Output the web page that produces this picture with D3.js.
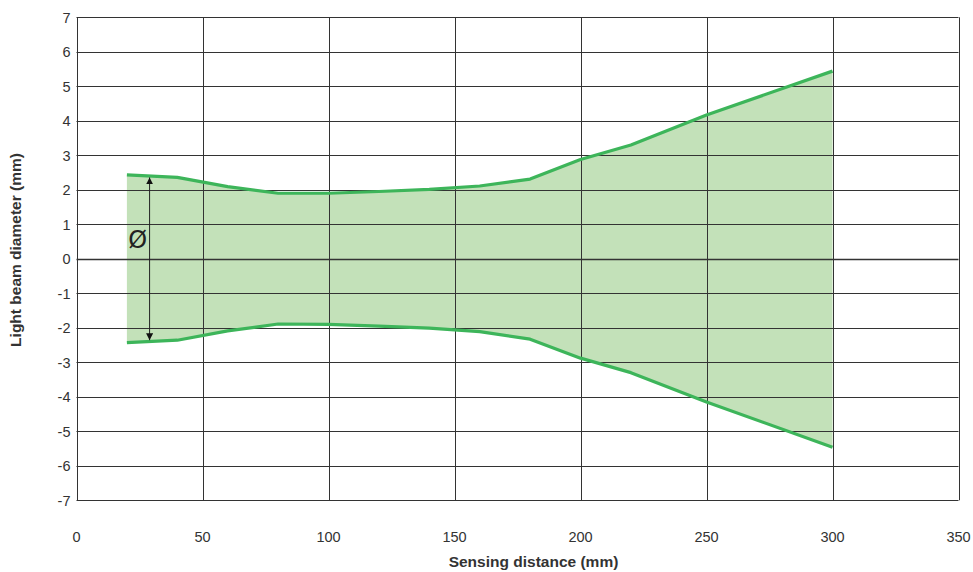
<!DOCTYPE html>
<html><head><meta charset="utf-8">
<script src="https://cdn.jsdelivr.net/npm/d3@7"></script>
<style>body{margin:0;background:#fff}svg{display:block}</style>
</head><body>
<script>
const distances = [20, 40, 60, 80, 100, 120, 140, 160, 180, 200, 220, 250, 300];
const upper = [2.43, 2.36, 2.09, 1.9, 1.9, 1.95, 2.01, 2.11, 2.31, 2.88, 3.3, 4.17, 5.44];
const lower = [-2.43, -2.36, -2.09, -1.89, -1.9, -1.95, -2.01, -2.11, -2.33, -2.88, -3.3, -4.15, -5.46];
const xTicks = [0, 50, 100, 150, 200, 250, 300, 350];
const yTicks = [-7, -6, -5, -4, -3, -2, -1, 0, 1, 2, 3, 4, 5, 6, 7];
const arrowX = 29;
const arrowSpan = [2.36, -2.36];

const W = 973, H = 572;
const m = {l: 76.5, r: 14.5, t: 17.3, b: 71.7};
const svg = d3.select("body").append("svg").attr("width", W).attr("height", H);
const x = d3.scaleLinear().domain([0, 350]).range([m.l, W - m.r]);
const y = d3.scaleLinear().domain([-7, 7]).range([H - m.b, m.t]);
const font = "Liberation Sans, Arial, sans-serif";

const data = distances.map((d, i) => ({d, u: upper[i], lo: lower[i]}));

// fill
svg.append("path").datum(data)
  .attr("d", d3.area().x(d => x(d.d)).y0(d => y(d.lo)).y1(d => y(d.u)))
  .attr("fill", "#c3e1b9");

// grid
const g = svg.append("g");
g.selectAll("line.h").data(yTicks).join("line")
  .attr("x1", x(0)).attr("x2", x(350))
  .attr("y1", d => Math.round(y(d)) + 0.5).attr("y2", d => Math.round(y(d)) + 0.5)
  .attr("stroke", "#333").attr("stroke-width", d => d === 0 ? 1.4 : 1);
g.selectAll("line.v").data(xTicks).join("line")
  .attr("y1", y(7)).attr("y2", y(-7))
  .attr("x1", d => Math.round(x(d)) + 0.5).attr("x2", d => Math.round(x(d)) + 0.5)
  .attr("stroke", "#333").attr("stroke-width", 1);

// y tick labels
svg.append("g").selectAll("text").data(yTicks).join("text")
  .attr("x", x(0) - 6).attr("y", d => y(d)).attr("dy", "0.36em")
  .attr("text-anchor", "end").attr("font-family", font).attr("font-size", 14.5)
  .attr("fill", "#333").text(d => d);
// x tick labels
svg.append("g").selectAll("text").data(xTicks).join("text")
  .attr("x", d => x(d)).attr("y", 542)
  .attr("text-anchor", "middle").attr("font-family", font).attr("font-size", 14.5)
  .attr("fill", "#333").text(d => d);

// axis titles
svg.append("text").attr("x", 533.5).attr("y", 566.5).attr("text-anchor", "middle")
  .attr("font-family", font).attr("font-size", 15.5).attr("font-weight", "bold")
  .attr("fill", "#333").text("Sensing distance (mm)");
svg.append("text").attr("transform", `translate(20.5,250) rotate(-90)`)
  .attr("text-anchor", "middle").attr("font-family", font).attr("font-size", 15.5)
  .attr("font-weight", "bold").attr("fill", "#333").text("Light beam diameter (mm)");

// lines
const line = d3.line().x(d => x(d[0])).y(d => y(d[1]));
[upper, lower].forEach(s => {
  svg.append("path").datum(distances.map((d, i) => [d, s[i]]))
    .attr("d", line).attr("fill", "none").attr("stroke", "#3db55a")
    .attr("stroke-width", 3.2).attr("stroke-linejoin", "round");
});

// arrow
const defs = svg.append("defs");
defs.append("marker").attr("id", "ah").attr("viewBox", "0 0 10 10")
  .attr("refX", 10).attr("refY", 5).attr("markerWidth", 7).attr("markerHeight", 7)
  .attr("orient", "auto-start-reverse").attr("markerUnits", "userSpaceOnUse")
  .append("path").attr("d", "M0,0 L10,5 L0,10 z").attr("fill", "#111");
svg.append("line").attr("x1", x(arrowX)).attr("x2", x(arrowX))
  .attr("y1", y(arrowSpan[0])).attr("y2", y(arrowSpan[1]))
  .attr("stroke", "#222").attr("stroke-width", 1)
  .attr("marker-start", "url(#ah)").attr("marker-end", "url(#ah)");
svg.append("text").attr("x", x(arrowX) - 12).attr("y", y(0.55)).attr("dy", "0.35em")
  .attr("text-anchor", "middle").attr("font-family", "DejaVu Sans, sans-serif")
  .attr("font-size", 24).attr("fill", "#222").text("Ø");
</script>
</body></html>
